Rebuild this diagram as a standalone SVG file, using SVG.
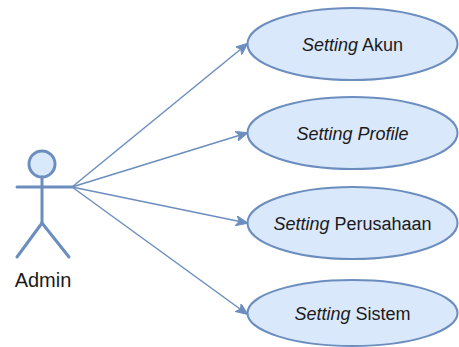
<svg xmlns="http://www.w3.org/2000/svg" width="459" height="347" viewBox="0 0 459 347">
<style>
.uc{fill:#dae8fc;stroke:#6c8ebf;stroke-width:2}
.lbl{font-family:"Liberation Sans",Arial,sans-serif;font-size:18px;fill:#1a1a1a;text-anchor:middle}
.it{font-style:italic}
.edge{fill:none;stroke:#6c8ebf;stroke-width:1.5}
.actor{fill:none;stroke:#6c8ebf;stroke-width:3;stroke-linecap:round}
</style>
<defs>
<marker id="arr" markerUnits="userSpaceOnUse" viewBox="0 0 12 10" refX="11" refY="5" markerWidth="12" markerHeight="10" orient="auto">
<path d="M0,0 L12,5 L0,10 L3,5 Z" fill="#6c8ebf" stroke="#6c8ebf" stroke-width="1"/>
</marker>
</defs>
<g id="connectors">
<line class="edge" x1="72" y1="187" x2="247" y2="44" marker-end="url(#arr)"/>
<line class="edge" x1="72" y1="187" x2="247" y2="133" marker-end="url(#arr)"/>
<line class="edge" x1="72" y1="187" x2="247" y2="223" marker-end="url(#arr)"/>
<line class="edge" x1="72" y1="187" x2="247" y2="314" marker-end="url(#arr)"/>
</g>
<g id="admin">
<circle cx="42" cy="164" r="13" fill="#dae8fc" stroke="#6c8ebf" stroke-width="3"/>
<line class="actor" x1="42" y1="177" x2="42" y2="223"/>
<line class="actor" x1="17" y1="187" x2="72" y2="187"/>
<line class="actor" x1="42" y1="223" x2="17" y2="257"/>
<line class="actor" x1="42" y1="223" x2="69" y2="257"/>
<text x="43" y="287" style="font-family:'Liberation Sans',Arial,sans-serif;font-size:20px;fill:#1a1a1a;text-anchor:middle">Admin</text>
</g>
<g id="uc1">
<ellipse class="uc" cx="352.5" cy="44" rx="105" ry="36"/>
<text class="lbl" x="352.5" y="50.5"><tspan class="it">Setting</tspan> Akun</text>
</g>
<g id="uc2">
<ellipse class="uc" cx="352.5" cy="133" rx="105" ry="36"/>
<text class="lbl it" x="352.5" y="139.5">Setting Profile</text>
</g>
<g id="uc3">
<ellipse class="uc" cx="352.5" cy="223" rx="105" ry="36"/>
<text class="lbl" x="352.5" y="229.5"><tspan class="it">Setting</tspan> Perusahaan</text>
</g>
<g id="uc4">
<ellipse class="uc" cx="352.5" cy="313" rx="105" ry="33"/>
<text class="lbl" x="352.5" y="319.5"><tspan class="it">Setting</tspan> Sistem</text>
</g>
</svg>
